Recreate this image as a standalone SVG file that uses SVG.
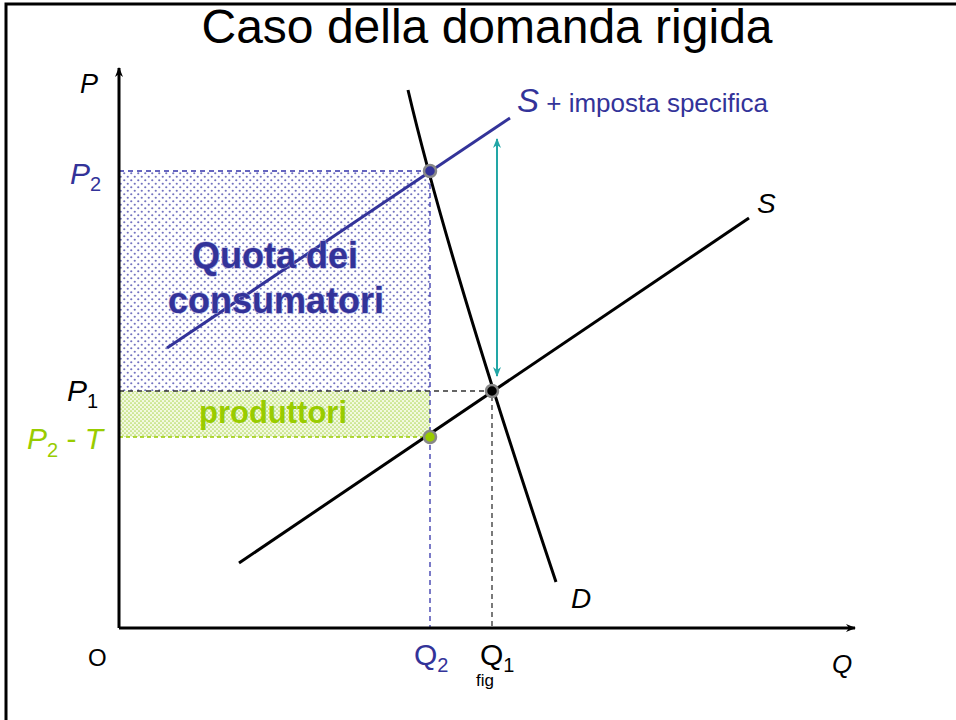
<svg xmlns="http://www.w3.org/2000/svg" width="956" height="720" viewBox="0 0 956 720">
<style>
text{font-family:"Liberation Sans",Arial,sans-serif}
.it{font-style:italic}
.ax{stroke:#000;stroke-width:3;fill:none}
.crv{stroke:#000;stroke-width:3;fill:none}
.blue{fill:#333399}
.grn{fill:#99cc00}
</style>
<defs>
<pattern id="pb" width="7" height="7" patternUnits="userSpaceOnUse">
<rect width="7" height="7" fill="#fff"/>
<circle cx="1.75" cy="1.75" r="1.1" fill="#7373c0"/>
<circle cx="5.25" cy="5.25" r="1.1" fill="#7373c0"/>
</pattern>
<pattern id="pg" width="4" height="4" patternUnits="userSpaceOnUse">
<rect width="4" height="4" fill="#f2f9e0"/>
<circle cx="1" cy="1" r="0.85" fill="#b0d85a"/>
<circle cx="3" cy="3" r="0.85" fill="#b0d85a"/>
</pattern>
<marker id="ah" viewBox="0 0 10 10" refX="9" refY="5" markerWidth="10" markerHeight="10" markerUnits="userSpaceOnUse" orient="auto-start-reverse">
<path d="M0,1 L10,5 L0,9 L3,5 Z" fill="#000"/>
</marker>
<marker id="at" viewBox="0 0 10 10" refX="9" refY="5" markerWidth="12" markerHeight="10" markerUnits="userSpaceOnUse" orient="auto-start-reverse">
<path d="M0,1 L10,5 L0,9 L3,5 Z" fill="#22a6a6"/>
</marker>
</defs>
<rect width="956" height="720" fill="#fff"/>
<path d="M6,720 V4 H956" fill="none" stroke="#000" stroke-width="3"/>
<text x="487" y="43" font-size="48" text-anchor="middle">Caso della domanda rigida</text>

<g id="areas">
<rect id="consumer-area" x="119" y="171" width="311" height="220" fill="url(#pb)"/>
<rect id="producer-area" x="119" y="391" width="311" height="46" fill="url(#pg)"/>
<path d="M119,171 H430 V628" fill="none" stroke="#3333aa" stroke-width="1.3" stroke-dasharray="5,4"/>
<path d="M119,437 H430" fill="none" stroke="#99cc00" stroke-width="1.3" stroke-dasharray="4,3"/>
<path d="M119,391 H492 V628" fill="none" stroke="#333" stroke-width="1.3" stroke-dasharray="5,4"/>
</g>

<g id="connectors">
<line class="ax" x1="119" y1="628" x2="119" y2="68" marker-end="url(#ah)"/>
<line class="ax" x1="119" y1="628" x2="855" y2="628" marker-end="url(#ah)"/>
<line id="supply" class="crv" x1="239" y1="563" x2="749" y2="218"/>
<line id="supply-tax" x1="167" y1="348" x2="510" y2="118" stroke="#333399" stroke-width="3"/>
<path id="demand" class="crv" d="M408,90 Q448,260 556,582"/>
<line id="tax-arrow" x1="497" y1="376" x2="497" y2="139" stroke="#22a6a6" stroke-width="2" marker-start="url(#at)" marker-end="url(#at)"/>
</g>

<g id="points">
<circle cx="430" cy="171" r="6" fill="#333399" stroke="#888" stroke-width="2.5"/>
<circle cx="492" cy="391" r="6" fill="#000" stroke="#888" stroke-width="2.5"/>
<circle cx="430" cy="437" r="6" fill="#99cc00" stroke="#888" stroke-width="2.5"/>
</g>

<g id="labels">
<text class="blue" x="275" y="268" font-size="36" font-weight="bold" text-anchor="middle" stroke="#aaaadd" stroke-width="1" paint-order="stroke">Quota dei</text>
<text class="blue" x="276" y="313" font-size="36" font-weight="bold" text-anchor="middle" stroke="#aaaadd" stroke-width="1" paint-order="stroke">consumatori</text>
<text class="grn" x="273" y="423" font-size="31" font-weight="bold" text-anchor="middle">produttori</text>

<text class="it" x="80" y="93" font-size="27">P</text>
<text class="blue" x="70" y="184" font-size="30"><tspan class="it">P</tspan><tspan font-size="20" dy="7">2</tspan></text>
<text x="67" y="401" font-size="30"><tspan class="it">P</tspan><tspan font-size="20" dy="7">1</tspan></text>
<text class="grn" x="27" y="449" font-size="30"><tspan class="it">P</tspan><tspan font-size="20" dy="8">2</tspan><tspan dy="-8"> - </tspan><tspan class="it">T</tspan></text>
<text x="88" y="666" font-size="24">O</text>
<text class="blue" x="414" y="665" font-size="30">Q<tspan font-size="20" dy="7">2</tspan></text>
<text x="480" y="665" font-size="30">Q<tspan font-size="20" dy="7">1</tspan></text>
<text x="476" y="686" font-size="17">fig</text>
<text class="it" x="832" y="673" font-size="26">Q</text>
<text class="it" x="571" y="608" font-size="28">D</text>
<text class="it" x="757" y="213" font-size="28">S</text>
<text class="blue" x="517" y="112" font-size="33"><tspan class="it">S</tspan><tspan font-size="26"> + imposta specifica</tspan></text>
</g>
</svg>
